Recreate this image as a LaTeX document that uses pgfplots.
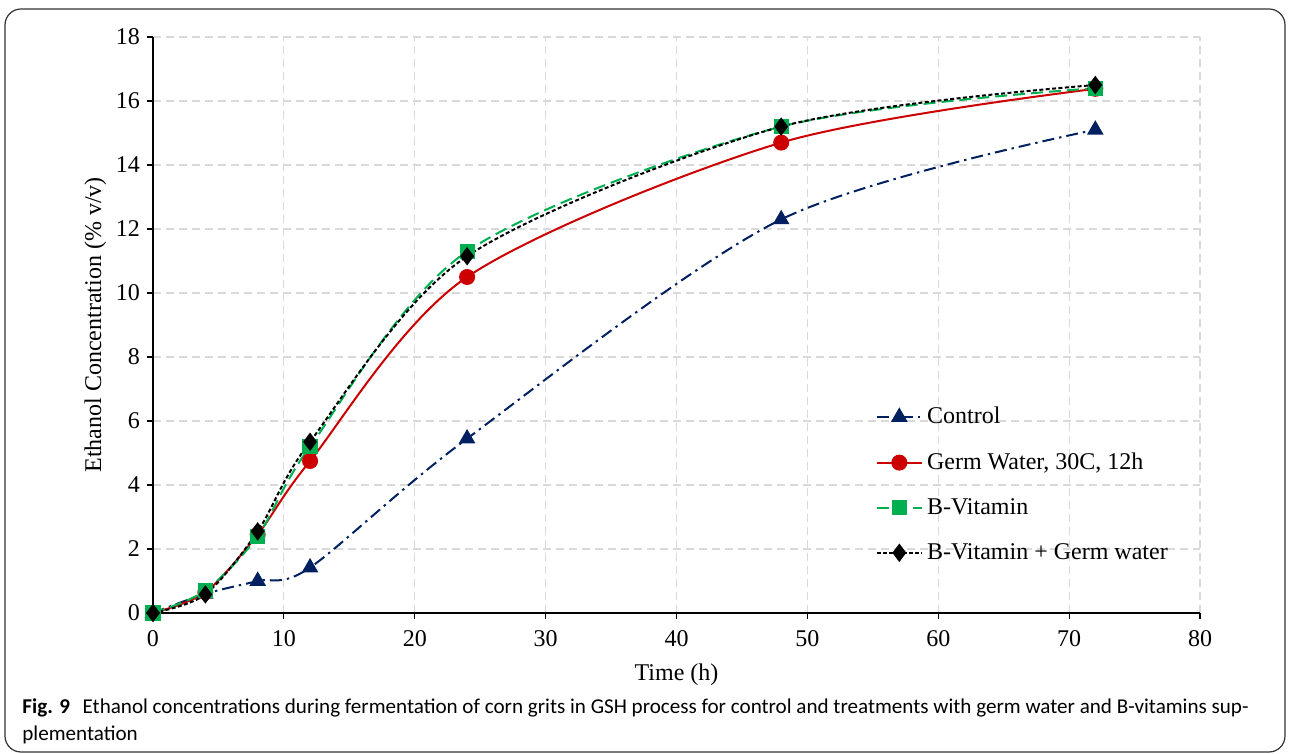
\documentclass[border=0pt]{standalone}
\usepackage{fontspec}
\setmainfont{Liberation Serif}
\newfontfamily\capfont{Carlito}
\usepackage{pgfplots}
\pgfplotsset{compat=1.18}
\definecolor{ctrl}{RGB}{0,32,96}
\definecolor{germ}{RGB}{204,0,0}
\definecolor{bvit}{RGB}{0,176,80}
\definecolor{gridc}{RGB}{217,217,217}
\begin{document}
\begin{tikzpicture}
\path[use as bounding box] (-76.5pt,-70.5pt) rectangle (568.5pt,306.5pt);
\draw[line width=0.6pt, rounded corners=8pt, black!80] (-74pt,-69.5pt) rectangle (566pt,302pt);
\begin{axis}[
  at={(0pt,0pt)}, anchor=origin,
  scale only axis, width=523.5pt, height=288pt,
  xmin=0, xmax=80, ymin=0, ymax=18,
  xtick={0,10,...,80}, ytick={0,2,...,18},
  axis x line*=bottom, axis y line*=left,
  axis line style={-, line width=0.8pt, black},
  tick style={black, line width=0.6pt},
  tick align=outside, major tick length=3pt,
  grid=major,
  major grid style={gridc, dashed, line width=0.6pt, dash pattern=on 4pt off 2.5pt},
  ticklabel style={font=\fontsize{12}{14}\selectfont},
  xticklabel style={yshift=-2pt},
  /pgf/number format/assume math mode=true,
  xlabel={Time (h)}, ylabel={Ethanol Concentration (\% v/v)},
  label style={font=\fontsize{12}{14}\selectfont},
  xlabel style={yshift=-2pt},
  ylabel style={yshift=-2pt},
  legend style={at={(0.684,0.372)}, anchor=north west, draw=none, fill=none,
    font=\fontsize{12}{14}\selectfont, row sep=9pt,
    /tikz/every even column/.append style={column sep=0pt}},
  legend cell align=left,
  legend image code/.code={\draw[#1, mark repeat=2, mark phase=2] plot coordinates {(0cm,0cm) (0.4cm,0cm) (0.8cm,0cm)};},
]
\addplot[ctrl, line width=1pt, dash pattern=on 6pt off 2.5pt on 1.2pt off 2.5pt, smooth, tension=0.5,
  mark=triangle*, mark size=3.8pt, mark options={solid, fill=ctrl}]
  coordinates {(0,0) (4,0.6) (8,1.0) (12,1.42) (24,5.45) (48,12.3) (72,15.1)};
\addlegendentry{Control}
\addplot[germ, line width=1pt, smooth, tension=0.5,
  mark=*, mark size=3.5pt, mark options={solid, fill=germ}]
  coordinates {(0,0) (4,0.65) (8,2.45) (12,4.75) (24,10.5) (48,14.7) (72,16.38)};
\addlegendentry{Germ Water, 30C, 12h}
\addplot[bvit, line width=1pt, dash pattern=on 6pt off 3pt, smooth, tension=0.5,
  mark=square*, mark size=3.3pt, mark options={solid, fill=bvit}]
  coordinates {(0,0) (4,0.7) (8,2.4) (12,5.2) (24,11.3) (48,15.2) (72,16.4)};
\addlegendentry{B-Vitamin}
\addplot[black, line width=1pt, dash pattern=on 2pt off 1.2pt, smooth, tension=0.5,
  mark=diamond*, mark size=3.8pt, mark options={solid, fill=black}]
  coordinates {(0,0) (4,0.58) (8,2.55) (12,5.35) (24,11.15) (48,15.2) (72,16.5)};
\addlegendentry{B-Vitamin + Germ water}
\end{axis}
\node[anchor=base west, inner sep=0pt, font=\capfont\fontsize{10.55}{13.5}\selectfont] at (-65.5pt,-50.5pt)
  {\textbf{Fig. 9}\hspace{0.6em}Ethanol concentrations during fermentation of corn grits in GSH process for control and treatments with germ water and B-vitamins sup-};
\node[anchor=base west, inner sep=0pt, font=\capfont\fontsize{10.55}{13.5}\selectfont] at (-65.5pt,-64pt)
  {plementation};
\end{tikzpicture}
\end{document}
